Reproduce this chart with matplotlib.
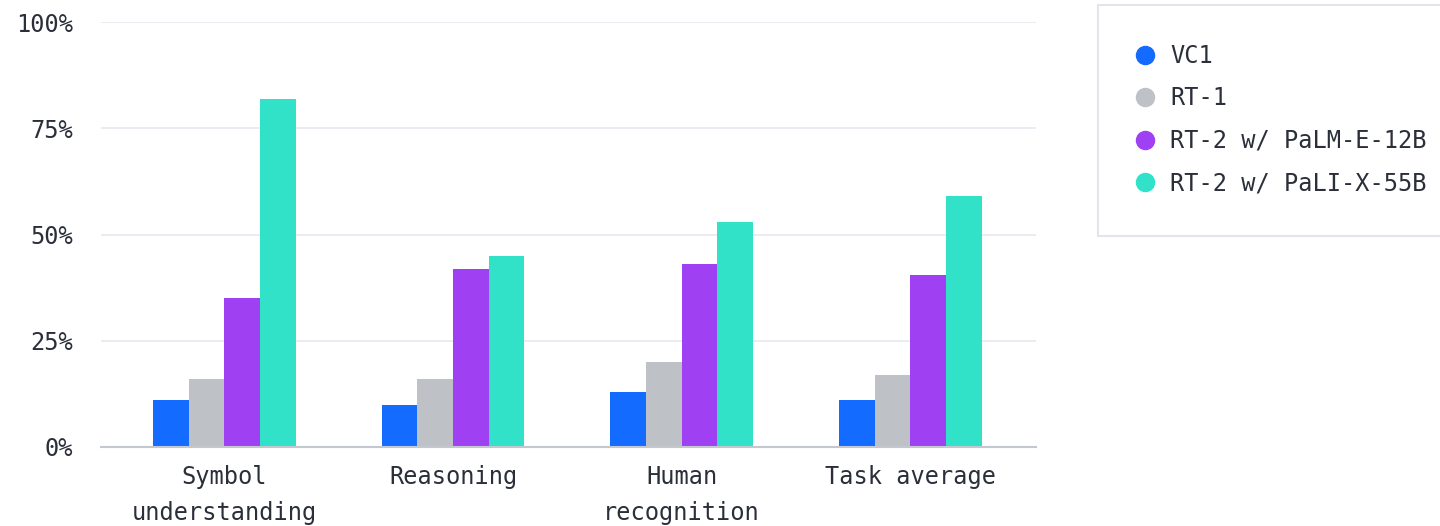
import matplotlib.pyplot as plt
from matplotlib.patches import Rectangle
import numpy as np

# data (percent)
tasks = ['Symbol\nunderstanding', 'Reasoning', 'Human\nrecognition', 'Task average']
models = ['VC1', 'RT-1', 'RT-2 w/ PaLM-E-12B', 'RT-2 w/ PaLI-X-55B']
vc1 = [11, 10, 13, 11]
rt1 = [16, 16, 20, 17]
rt2_palme = [35, 42, 43, 40.5]
rt2_palix = [82, 45, 53, 59]
colors = ['#136bff', '#bec1c6', '#9f40f2', '#31e1c8']

plt.rcParams['font.family'] = ['DejaVu Sans Mono']
text_color = '#2b2f3a'
fs = 17

fig = plt.figure(figsize=(14.4, 5.26), dpi=100)
ax = fig.add_axes([101 / 1440, 1 - 447 / 526, 935 / 1440, 425 / 526])

x = np.arange(len(tasks))
width = 0.156
series = [vc1, rt1, rt2_palme, rt2_palix]
for i, (vals, c, name) in enumerate(zip(series, colors, models)):
    ax.bar(x + (i - 1.5) * width, vals, width, color=c, label=name, zorder=3)

ax.set_xlim(-0.54, 3.55)
ax.set_ylim(0, 100)
ax.set_yticks([0, 25, 50, 75, 100])
ax.set_yticklabels(['0%', '25%', '50%', '75%', '100%'])
ax.set_xticks(x)
ax.set_xticklabels(tasks, linespacing=1.65)
ax.tick_params(axis='both', length=0, labelsize=fs, colors=text_color)
ax.tick_params(axis='y', pad=20)
ax.tick_params(axis='x', pad=13)

ax.grid(axis='y', color='#e7e9ef', linewidth=1.2, zorder=0)
for s in ['top', 'right', 'left']:
    ax.spines[s].set_visible(False)
ax.spines['bottom'].set_color('#c3c7cf')
ax.spines['bottom'].set_linewidth(1.5)
ax.spines['bottom'].set_zorder(4)

# legend box running off the right edge
fig.patches.append(Rectangle((1098 / 1440, 1 - 236 / 526), 360 / 1440, 231 / 526,
                             transform=fig.transFigure, facecolor='white',
                             edgecolor='#e3e5ea', linewidth=1.5))
handles = [plt.Line2D([], [], marker='o', linestyle='none', markersize=13,
                      markerfacecolor=c, markeredgecolor=c) for c in colors]
leg = fig.legend(handles, models, loc='upper left',
                 bbox_to_anchor=(1133 / 1440, 1 - 44 / 526), frameon=False,
                 fontsize=fs, labelspacing=0.78, handletextpad=0.57,
                 handlelength=1.0, borderaxespad=0, borderpad=0)
for t in leg.get_texts():
    t.set_color(text_color)

plt.savefig('out.png', dpi=100)
